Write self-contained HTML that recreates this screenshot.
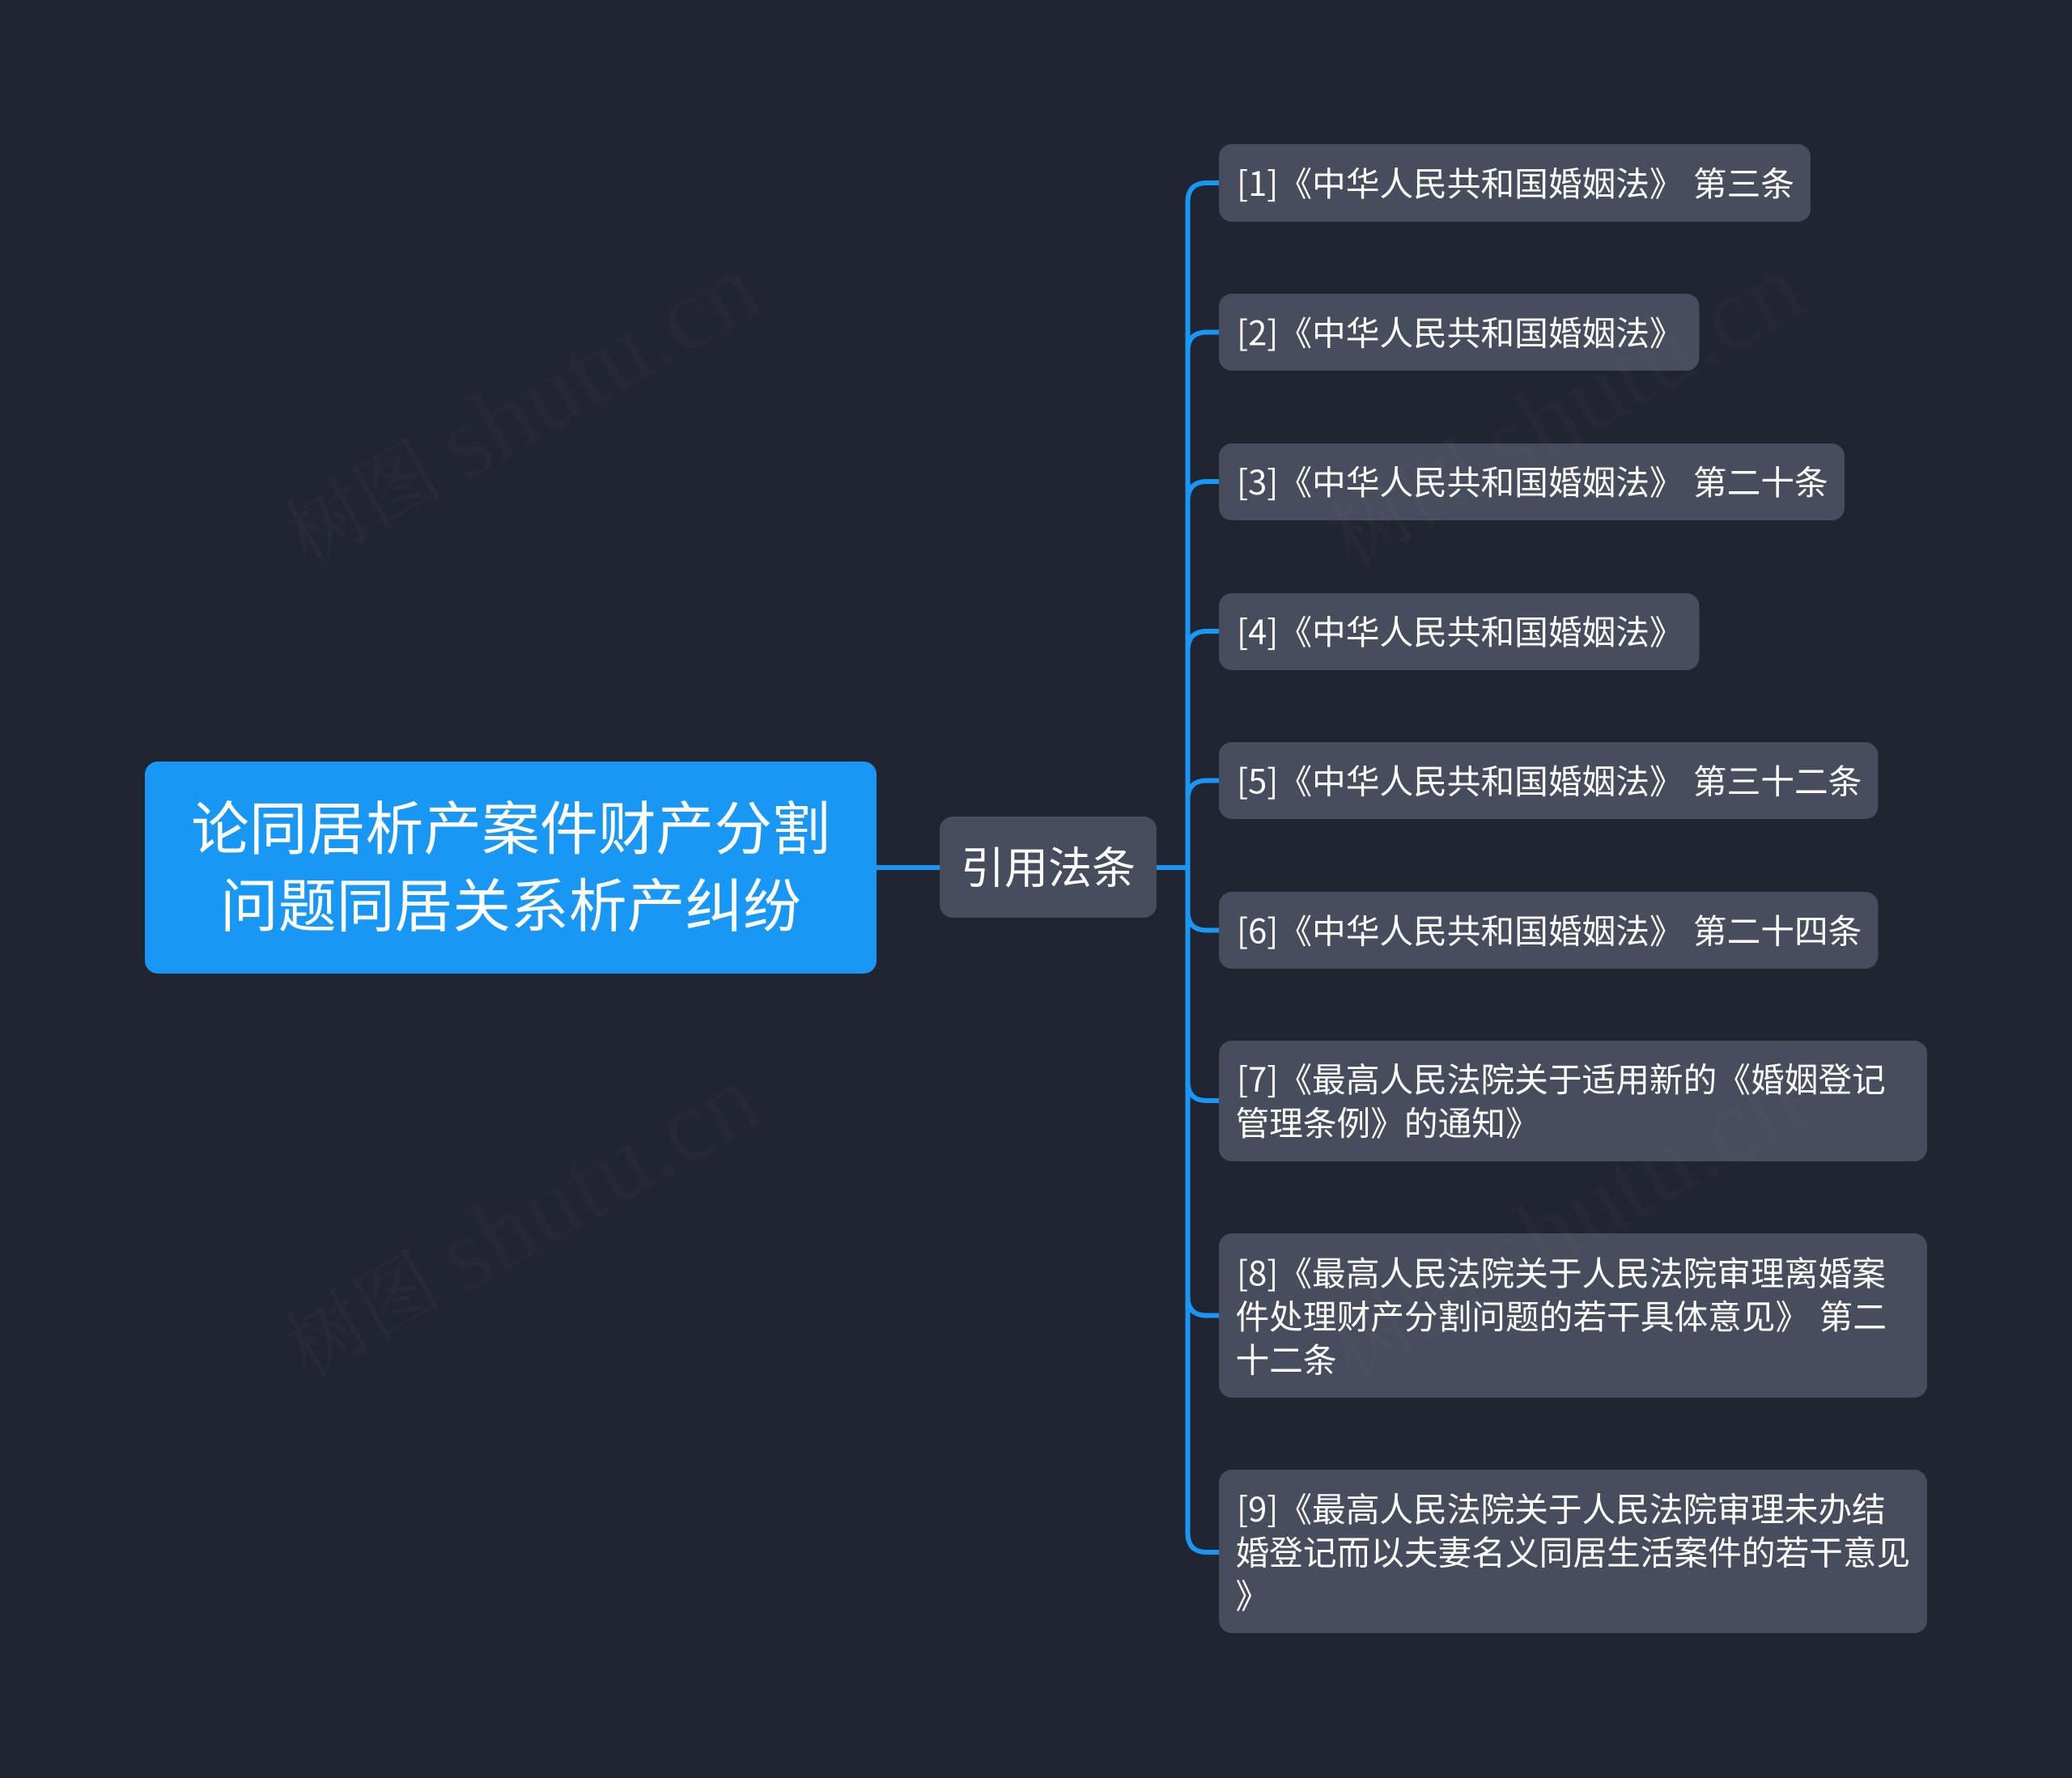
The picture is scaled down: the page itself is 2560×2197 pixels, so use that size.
<!DOCTYPE html>
<html lang="zh">
<head>
<meta charset="utf-8">
<title>论同居析产案件财产分割问题同居关系析产纠纷</title>
<style>
html,body{margin:0;padding:0;background:#212531;}
svg{display:block;}
text{font-family:"Noto Sans CJK SC","Liberation Sans",sans-serif;fill:#fff;}
.l{font-size:41.7px;word-spacing:3px;}
text.wc{font-family:"Noto Serif CJK SC",serif;font-size:98px;fill:rgba(128,128,120,.06);}
text.wl{font-family:"Liberation Serif",serif;font-size:128px;fill:rgba(128,128,120,.055);}
</style>
</head>
<body>
<svg xmlns="http://www.w3.org/2000/svg" width="2560" height="2197" viewBox="0 0 2560 2197">
<rect width="2560" height="2197" fill="#212531"/>
<g fill="none" stroke="#1997f5" stroke-width="6">
<path d="M1083 1072H1161"/>
<path d="M1428 1072H1467"/>
<path d="M1506 226H1491Q1467.500 226 1467.500 250V1894Q1467.500 1918 1491 1918H1506"/>
<path d="M1506 410.500H1491Q1467.500 410.500 1467.500 434"/>
<path d="M1506 595H1491Q1467.500 595 1467.500 619"/>
<path d="M1506 780H1491Q1467.500 780 1467.500 804"/>
<path d="M1506 964.500H1491Q1467.500 964.500 1467.500 988"/>
<path d="M1506 1149.500H1491Q1467.500 1149.500 1467.500 1126"/>
<path d="M1506 1360H1491Q1467.500 1360 1467.500 1336"/>
<path d="M1506 1625.500H1491Q1467.500 1625.500 1467.500 1602"/>
</g>
<rect x="179" y="941" width="904" height="262" rx="16" fill="#1997f5"/>
<rect x="1161" y="1009" width="268" height="125" rx="16" fill="#474d5c"/>
<rect x="1506" y="178" width="731" height="96" rx="16" fill="#474d5c"/>
<rect x="1506" y="363" width="593.500" height="95" rx="16" fill="#474d5c"/>
<rect x="1506" y="548" width="773" height="95" rx="16" fill="#474d5c"/>
<rect x="1506" y="733" width="593.500" height="95" rx="16" fill="#474d5c"/>
<rect x="1506" y="917" width="814.500" height="95" rx="16" fill="#474d5c"/>
<rect x="1506" y="1102" width="814.500" height="95" rx="16" fill="#474d5c"/>
<rect x="1506" y="1286" width="875" height="149" rx="16" fill="#474d5c"/>
<rect x="1506" y="1524" width="875" height="203" rx="16" fill="#474d5c"/>
<rect x="1506" y="1816" width="875" height="202" rx="16" fill="#474d5c"/>

<text x="631" y="1049.500" text-anchor="middle" font-size="71.800">论同居析产案件财产分割</text>
<text x="631" y="1145" text-anchor="middle" font-size="71.800">问题同居关系析产纠纷</text>
<text x="1295" y="1091.500" text-anchor="middle" font-size="54">引用法条</text>

<text class="l" x="1528" y="242" xml:space="preserve">[1]《中华人民共和国婚姻法》 第三条</text>
<text class="l" x="1528" y="426.500">[2]《中华人民共和国婚姻法》</text>
<text class="l" x="1528" y="611" xml:space="preserve">[3]《中华人民共和国婚姻法》 第二十条</text>
<text class="l" x="1528" y="796">[4]《中华人民共和国婚姻法》</text>
<text class="l" x="1528" y="980.500" xml:space="preserve">[5]《中华人民共和国婚姻法》 第三十二条</text>
<text class="l" x="1528" y="1165.500" xml:space="preserve">[6]《中华人民共和国婚姻法》 第二十四条</text>
<text class="l" x="1528" y="1349">[7]《最高人民法院关于适用新的《婚姻登记</text>
<text class="l" x="1526.500" y="1403">管理条例》的通知》</text>
<text class="l" x="1528" y="1588.500">[8]《最高人民法院关于人民法院审理离婚案</text>
<text class="l" x="1526.500" y="1642" xml:space="preserve">件处理财产分割问题的若干具体意见》 第二</text>
<text class="l" x="1526.500" y="1695.500">十二条</text>
<text class="l" x="1528" y="1880">[9]《最高人民法院关于人民法院审理未办结</text>
<text class="l" x="1526.500" y="1933.500">婚登记而以夫妻名义同居生活案件的若干意见</text>
<text class="l" x="1526.500" y="1987">》</text>

<text class="wc" transform="translate(380 701) rotate(-30)">树图</text>
<text class="wl" transform="translate(574 596) rotate(-30)">shutu.cn</text>
<text class="wc" transform="translate(1670 701) rotate(-30)">树图</text>
<text class="wl" transform="translate(1864 596) rotate(-30)">shutu.cn</text>
<text class="wc" transform="translate(380 1704) rotate(-30)">树图</text>
<text class="wl" transform="translate(574 1599) rotate(-30)">shutu.cn</text>
<text class="wc" transform="translate(1670 1704) rotate(-30)">树图</text>
<text class="wl" transform="translate(1864 1599) rotate(-30)">shutu.cn</text>
</svg>
</body>
</html>
